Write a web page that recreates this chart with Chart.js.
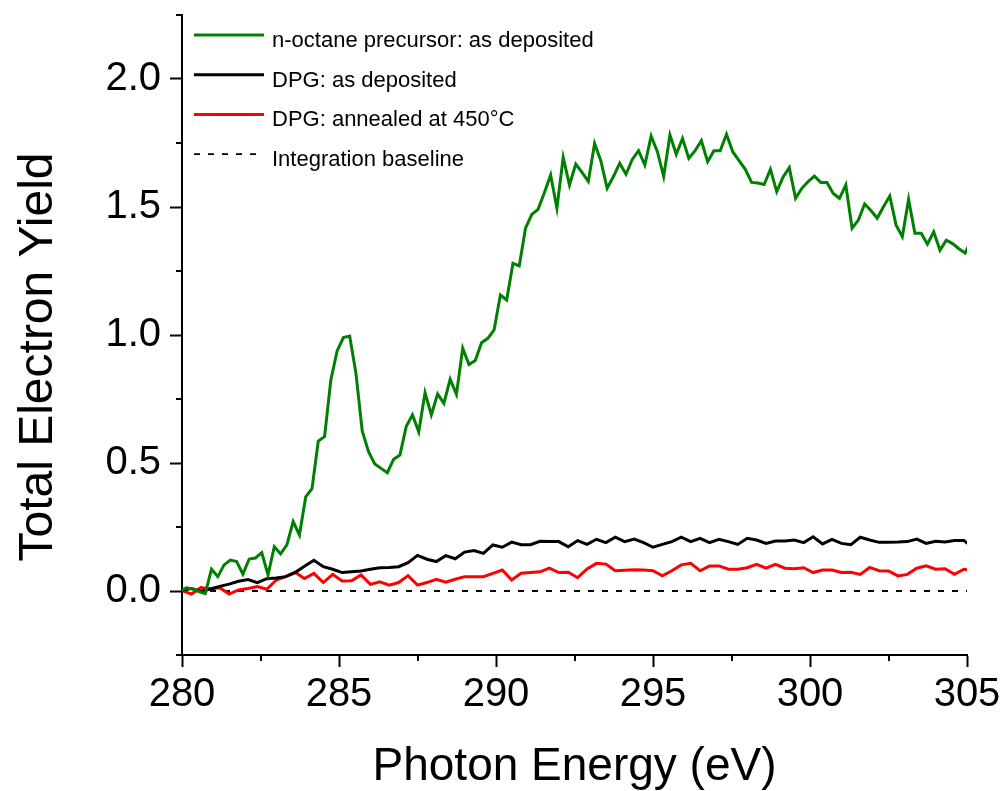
<!DOCTYPE html>
<html>
<head>
<meta charset="utf-8">
<script src="https://cdn.jsdelivr.net/npm/chart.js@4/dist/chart.umd.min.js"></script>
<style>
    body { margin: 0; background: #ffffff; }
    canvas { display: block; }
</style>
</head>
<body>
<canvas id="chart" width="1006" height="791"></canvas>
<script>
const FONT = "\"Liberation Sans\", Arial, Helvetica, sans-serif";

// n-octane precursor, sampled every 0.2 eV
const octaneStart = 279.94;
const octaneStep = 0.2;
const octaneYield = [
    0.000, 0.012, 0.008, -0.002, -0.010, 0.085, 0.056, 0.102, 0.121, 0.115,
    0.066, 0.125, 0.129, 0.150, 0.063, 0.173, 0.145, 0.180, 0.271, 0.219,
    0.368, 0.400, 0.586, 0.603, 0.824, 0.938, 0.990, 0.996, 0.850, 0.625,
    0.544, 0.496, 0.479, 0.462, 0.515, 0.531, 0.642, 0.688, 0.622, 0.775,
    0.688, 0.770, 0.733, 0.827, 0.768, 0.948, 0.885, 0.900, 0.970, 0.987,
    1.020, 1.156, 1.137, 1.280, 1.270, 1.417, 1.471, 1.491, 1.556, 1.625,
    1.495, 1.694, 1.586, 1.668, 1.635, 1.600, 1.748, 1.680, 1.573, 1.619,
    1.671, 1.628, 1.686, 1.720, 1.664, 1.777, 1.716, 1.619, 1.781, 1.706,
    1.768, 1.690, 1.720, 1.759, 1.677, 1.720, 1.720, 1.784, 1.716, 1.681,
    1.647, 1.596, 1.594, 1.588, 1.647, 1.560, 1.616, 1.654, 1.534, 1.573,
    1.599, 1.621, 1.596, 1.596, 1.553, 1.534, 1.586, 1.417, 1.449, 1.512,
    1.486, 1.456, 1.501, 1.543, 1.430, 1.384, 1.530, 1.397, 1.397, 1.355,
    1.403, 1.331, 1.370, 1.357, 1.337, 1.320, 1.370,
];

// DPG films, sampled every 0.3 eV
const dpgStart = 280;
const dpgStep = 0.3;
const dpgDeposited = [
    0.004, 0.010, -0.002, 0.008, 0.018, 0.027, 0.038, 0.045, 0.033, 0.048,
    0.051, 0.056, 0.072, 0.097, 0.120, 0.095, 0.085, 0.072, 0.075, 0.078,
    0.085, 0.091, 0.092, 0.095, 0.111, 0.139, 0.124, 0.115, 0.138, 0.126,
    0.152, 0.158, 0.147, 0.180, 0.171, 0.191, 0.181, 0.181, 0.194, 0.193,
    0.193, 0.173, 0.197, 0.182, 0.202, 0.189, 0.210, 0.193, 0.203, 0.189,
    0.171, 0.182, 0.193, 0.210, 0.193, 0.206, 0.189, 0.202, 0.193, 0.182,
    0.206, 0.199, 0.186, 0.195, 0.195, 0.199, 0.189, 0.212, 0.184, 0.202,
    0.186, 0.181, 0.210, 0.199, 0.190, 0.190, 0.191, 0.193, 0.203, 0.186,
    0.194, 0.191, 0.197, 0.197, 0.170,
];
const dpgAnnealed = [
    0.001, -0.012, 0.013, 0.008, 0.013, -0.012, 0.004, 0.010, 0.017, 0.007,
    0.043, 0.056, 0.073, 0.049, 0.069, 0.033, 0.065, 0.039, 0.040, 0.063,
    0.026, 0.036, 0.023, 0.033, 0.060, 0.023, 0.033, 0.046, 0.034, 0.046,
    0.056, 0.056, 0.056, 0.069, 0.082, 0.043, 0.069, 0.072, 0.075, 0.089,
    0.072, 0.073, 0.052, 0.086, 0.108, 0.105, 0.079, 0.081, 0.083, 0.082,
    0.079, 0.059, 0.079, 0.102, 0.108, 0.079, 0.098, 0.098, 0.085, 0.085,
    0.091, 0.104, 0.089, 0.104, 0.089, 0.087, 0.091, 0.072, 0.082, 0.082,
    0.072, 0.073, 0.065, 0.092, 0.079, 0.078, 0.059, 0.065, 0.089, 0.098,
    0.085, 0.087, 0.065, 0.085, 0.080,
];

const baselineEnergy = [280, 305];
const baselineYield = [0, 0];

const seriesLabels = [
    "n-octane precursor: as deposited",
    "DPG: as deposited",
    "DPG: annealed at 450°C",
    "Integration baseline",
];

const xTicks = [280, 285, 290, 295, 300, 305];
const xMinorTicks = [282.5, 287.5, 292.5, 297.5, 302.5];
const yTicks = [0, 0.5, 1.0, 1.5, 2.0];
const yMinorTicks = [-0.25, 0.25, 0.75, 1.25, 1.75, 2.25];

const toPoints = (start, step, values) => values.map((y, i) => ({ x: start + i * step, y }));

// minor ticks, axis titles and the in-plot legend
const extras = {
    id: "extras",
    afterDraw: (chart) => {
        const { ctx, chartArea, scales } = chart;
        ctx.save();
        ctx.strokeStyle = "#000000";
        ctx.lineWidth = 2;
        yMinorTicks.forEach((v) => {
            const y = Math.round(scales.y.getPixelForValue(v));
            ctx.beginPath();
            ctx.moveTo(chartArea.left - 6, y);
            ctx.lineTo(chartArea.left, y);
            ctx.stroke();
        });
        xMinorTicks.forEach((v) => {
            const x = Math.round(scales.x.getPixelForValue(v));
            ctx.beginPath();
            ctx.moveTo(x, chartArea.bottom);
            ctx.lineTo(x, chartArea.bottom + 6);
            ctx.stroke();
        });

        ctx.fillStyle = "#000000";
        ctx.font = `46px ${FONT}`;
        ctx.textAlign = "center";
        ctx.textBaseline = "alphabetic";
        ctx.fillText("Photon Energy (eV)", (chartArea.left + chartArea.right) / 2, 780);
        ctx.save();
        ctx.translate(52, 357);
        ctx.rotate(-Math.PI / 2);
        ctx.font = `48px ${FONT}`;
        ctx.fillText("Total Electron Yield", 0, 0);
        ctx.restore();

        ctx.font = `22px ${FONT}`;
        ctx.textAlign = "left";
        chart.data.datasets.forEach((ds, i) => {
            const y = chartArea.top + 20 + i * 39.7;
            ctx.strokeStyle = ds.borderColor;
            ctx.lineWidth = ds.borderDash ? 1.8 : 3;
            ctx.setLineDash(ds.borderDash || []);
            ctx.beginPath();
            ctx.moveTo(chartArea.left + 12, y);
            ctx.lineTo(chartArea.left + 82, y);
            ctx.stroke();
            ctx.setLineDash([]);
            ctx.fillText(ds.label, chartArea.left + 90, y + 12);
        });
        ctx.restore();
    },
};

const axisStyle = {
    border: { display: true, color: "#000000", width: 2 },
    grid: {
        drawOnChartArea: false,
        drawTicks: true,
        tickLength: 12,
        tickWidth: 2,
        tickColor: "#000000",
        color: "#000000",
    },
};

// keep the plot box fixed: no extra room for overflowing tick labels
const noLabelPadding = (scale) => {
    scale.paddingTop = 0;
    scale.paddingBottom = 0;
    scale.paddingLeft = 0;
    scale.paddingRight = 0;
};

new Chart(document.getElementById("chart"), {
    type: "line",
    plugins: [extras],
    data: {
        datasets: [
            {
                label: seriesLabels[0],
                data: toPoints(octaneStart, octaneStep, octaneYield),
                borderColor: "#008000",
                borderWidth: 3,
            },
            {
                label: seriesLabels[1],
                data: toPoints(dpgStart, dpgStep, dpgDeposited),
                borderColor: "#000000",
                borderWidth: 3,
            },
            {
                label: seriesLabels[2],
                data: toPoints(dpgStart, dpgStep, dpgAnnealed),
                borderColor: "#ff0000",
                borderWidth: 3,
            },
            {
                label: seriesLabels[3],
                data: baselineEnergy.map((x, i) => ({ x, y: baselineYield[i] })),
                borderColor: "#000000",
                borderWidth: 1.8,
                borderDash: [6, 8],
            },
        ],
    },
    options: {
        responsive: false,
        animation: false,
        layout: { padding: { top: 15, right: 39, left: 0, bottom: 0 } },
        elements: { point: { radius: 0 }, line: { tension: 0 } },
        plugins: { legend: { display: false }, tooltip: { enabled: false } },
        scales: {
            x: {
                type: "linear",
                min: 280,
                max: 305,
                ...axisStyle,
                afterBuildTicks: (scale) => { scale.ticks = xTicks.map((value) => ({ value })); },
                afterFit: (scale) => { scale.height = 136; noLabelPadding(scale); },
                ticks: {
                    color: "#000000",
                    font: { family: FONT, size: 40 },
                    padding: 4,
                    maxRotation: 0,
                    autoSkip: false,
                    callback: (v) => String(v),
                },
            },
            y: {
                type: "linear",
                min: -0.25,
                max: 2.25,
                ...axisStyle,
                afterBuildTicks: (scale) => { scale.ticks = yTicks.map((value) => ({ value })); },
                afterFit: (scale) => { scale.width = 182; noLabelPadding(scale); },
                ticks: {
                    color: "#000000",
                    font: { family: FONT, size: 40 },
                    padding: 9,
                    callback: (v) => v.toFixed(1),
                },
            },
        },
    },
});
</script>
</body>
</html>
